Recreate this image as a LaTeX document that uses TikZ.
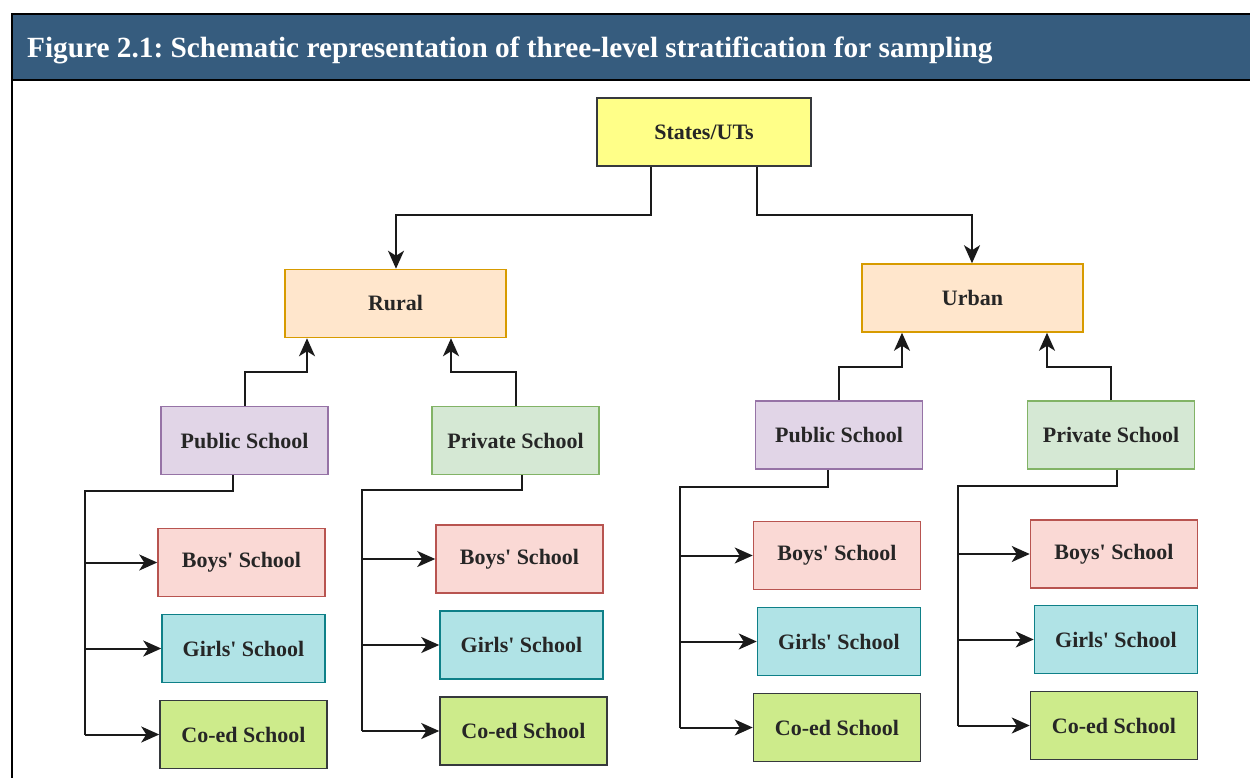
\documentclass[tikz,border=0pt]{standalone}
\usepackage{fontspec}
\setmainfont{Liberation Serif}
\usetikzlibrary{arrows.meta,calc}
\frenchspacing
\definecolor{band}{HTML}{365C7E}
\definecolor{yfill}{HTML}{FFFF88}
\definecolor{ydraw}{HTML}{36393D}
\definecolor{ofill}{HTML}{FFE6CC}
\definecolor{odraw}{HTML}{D79B00}
\definecolor{pfill}{HTML}{E1D5E7}
\definecolor{pdraw}{HTML}{9673A6}
\definecolor{gfill}{HTML}{D5E8D4}
\definecolor{gdraw}{HTML}{82B366}
\definecolor{rfill}{HTML}{FAD9D5}
\definecolor{rdraw}{HTML}{B85450}
\definecolor{cfill}{HTML}{B0E3E6}
\definecolor{cdraw}{HTML}{0E8088}
\definecolor{lfill}{HTML}{CDEB8B}
\definecolor{ldraw}{HTML}{36393D}
\definecolor{conn}{HTML}{1A1A1A}
\tikzset{
  box/.style={rectangle, line width=1.5pt, minimum height=68pt, inner sep=0pt,
    font=\fontsize{22}{26}\selectfont\bfseries, text=black!85},
  statebox/.style={box, fill=yfill, draw=ydraw, minimum width=214pt},
  areabox/.style={box, fill=ofill, draw=odraw, minimum width=221pt},
  pubbox/.style={box, fill=pfill, draw=pdraw, minimum width=167pt},
  privbox/.style={box, fill=gfill, draw=gdraw, minimum width=167pt},
  boysbox/.style={box, fill=rfill, draw=rdraw, minimum width=167pt},
  girlsbox/.style={box, fill=cfill, draw=cdraw, minimum width=163pt},
  coedbox/.style={box, fill=lfill, draw=ldraw, minimum width=167pt},
  link/.style={draw=conn, line width=2pt, -{Stealth[length=18pt,width=16pt,inset=5pt]}},
  trunk/.style={draw=conn, line width=2pt},
}
\newcommand{\apos}{\textquotesingle}
\begin{document}
\begin{tikzpicture}[x=1pt,y=-1pt]
\useasboundingbox (0,0) rectangle (1250,778);
% frame
\fill[band] (12,14) rectangle (1250,80);
\draw[line width=2.2pt] (1250,14) -- (12,14) -- (12,778);
\draw[line width=2.2pt] (12,80) -- (1250,80);
\node[anchor=base west, inner sep=0pt, text=white, font=\fontsize{29.3}{33}\selectfont\bfseries] (title) at (27,58)
  {Figure 2.1: Schematic representation of three-level stratification for sampling};
% top
\node[statebox] (states) at (704,132) {States/UTs};
\node[areabox] (rural) at (395.5,303.5) {Rural};
\node[areabox] (urban) at (972.5,298) {Urban};
% level 2
\node[pubbox] (rpub) at (244.5,440.5) {Public School};
\node[privbox] (rpriv) at (515.5,440.5) {Private School};
\node[pubbox] (upub) at (839,435) {Public School};
\node[privbox] (upriv) at (1111,435) {Private School};
% level 3 rural public
\node[boysbox] (rpubB) at (241.5,562.5) {Boys\apos{} School};
\node[girlsbox] (rpubG) at (243.5,648.5) {Girls\apos{} School};
\node[coedbox] (rpubC) at (243.5,734.5) {Co-ed School};
% rural private
\node[boysbox] (rprivB) at (519.5,559) {Boys\apos{} School};
\node[girlsbox] (rprivG) at (521.5,645) {Girls\apos{} School};
\node[coedbox] (rprivC) at (523.5,731) {Co-ed School};
% urban public
\node[boysbox] (upubB) at (837,555.5) {Boys\apos{} School};
\node[girlsbox] (upubG) at (839,641.5) {Girls\apos{} School};
\node[coedbox] (upubC) at (837,727.5) {Co-ed School};
% urban private
\node[boysbox] (uprivB) at (1114,554) {Boys\apos{} School};
\node[girlsbox] (uprivG) at (1116,639.5) {Girls\apos{} School};
\node[coedbox] (uprivC) at (1114,725.5) {Co-ed School};
% connectors top
\draw[link] (states.south -| 651,0) |- (396,215) -- (rural.north -| 396,0);
\draw[link] (states.south -| 757,0) |- (972,215) -- (urban.north -| 972,0);
% level 2 up
\draw[link] (rpub.north) |- (307,372) -- (rural.south -| 307,0);
\draw[link] (rpriv.north) |- (451,372) -- (rural.south -| 451,0);
\draw[link] (upub.north) |- (902,367) -- (urban.south -| 902,0);
\draw[link] (upriv.north) |- (1047,367) -- (urban.south -| 1047,0);
% level 3
\coordinate (a1) at (85,491);
\draw[trunk] (rpub.south -| 233,0) |- (a1) -- (85,734.5);
\draw[link] (85,562.5) -- (rpubB.west);
\draw[link] (85,648.5) -- (rpubG.west);
\draw[link] (85,734.5) -- (rpubC.west);
\coordinate (a2) at (362,490);
\draw[trunk] (rpriv.south -| 522,0) |- (a2) -- (362,731);
\draw[link] (362,559) -- (rprivB.west);
\draw[link] (362,645) -- (rprivG.west);
\draw[link] (362,731) -- (rprivC.west);
\coordinate (a3) at (680,487);
\draw[trunk] (upub.south -| 828,0) |- (a3) -- (680,727.5);
\draw[link] (680,555.5) -- (upubB.west);
\draw[link] (680,641.5) -- (upubG.west);
\draw[link] (680,727.5) -- (upubC.west);
\coordinate (a4) at (958,486);
\draw[trunk] (upriv.south -| 1117,0) |- (a4) -- (958,725.5);
\draw[link] (958,554) -- (uprivB.west);
\draw[link] (958,639.5) -- (uprivG.west);
\draw[link] (958,725.5) -- (uprivC.west);
\end{tikzpicture}
\end{document}
